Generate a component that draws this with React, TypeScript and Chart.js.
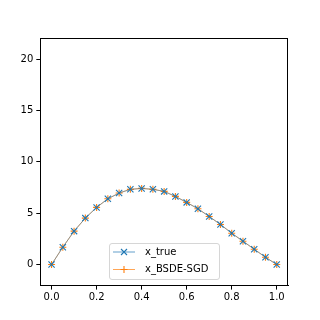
import React, { useEffect, useRef } from "react";
import { Chart, registerables } from "chart.js";

Chart.register(...registerables);

const xValues = [0, 0.05, 0.1, 0.15, 0.2, 0.25, 0.3, 0.35, 0.4, 0.45, 0.5, 0.55, 0.6, 0.65, 0.7, 0.75, 0.8, 0.85, 0.9, 0.95, 1.0];
const trueValues = [0, 1.69, 3.25, 4.52, 5.56, 6.4, 6.96, 7.32, 7.41, 7.32, 7.12, 6.63, 6.05, 5.43, 4.68, 3.9, 3.05, 2.27, 1.49, 0.71, 0];
const sgdValues = [0, 1.69, 3.25, 4.52, 5.56, 6.4, 6.96, 7.32, 7.41, 7.32, 7.12, 6.63, 6.05, 5.43, 4.68, 3.9, 3.05, 2.27, 1.49, 0.71, 0];
const xTicks = [0, 0.2, 0.4, 0.6, 0.8, 1.0];
const yTicks = [0, 5, 10, 15, 20];
const seriesLabels = ["x_true", "x_BSDE-SGD"];
const BLUE = "#1f77b4";
const ORANGE = "#ff7f0e";

const framePlugin = {
  id: "frame",
  afterDraw(chart: any) {
    const { ctx, chartArea } = chart;
    ctx.save();
    ctx.strokeStyle = "#000";
    ctx.lineWidth = 1;
    ctx.strokeRect(
      Math.round(chartArea.left) + 0.5,
      Math.round(chartArea.top) + 0.5,
      Math.round(chartArea.right - chartArea.left) - 1,
      Math.round(chartArea.bottom - chartArea.top) - 1
    );
    // legend
    const bx = 109.5, by = 243.5, bw = 110, bh = 36;
    ctx.fillStyle = "rgba(255,255,255,0.8)";
    ctx.strokeStyle = "rgba(204,204,204,0.8)";
    ctx.beginPath();
    (ctx as any).roundRect(bx, by, bw, bh, 2.5);
    ctx.fill();
    ctx.stroke();
    const rows = [
      { label: seriesLabels[0], color: BLUE, style: "x", y: 252 },
      { label: seriesLabels[1], color: ORANGE, style: "+", y: 269.5 },
    ];
    ctx.font = '10px "DejaVu Sans"';
    ctx.textBaseline = "middle";
    ctx.textAlign = "left";
    for (const r of rows) {
      ctx.strokeStyle = r.color;
      ctx.lineWidth = 0.7;
      ctx.beginPath();
      ctx.moveTo(113, r.y);
      ctx.lineTo(135, r.y);
      ctx.stroke();
      const cx = 124;
      ctx.lineWidth = 1.1;
      ctx.beginPath();
      if (r.style === "x") {
        ctx.moveTo(cx - 3, r.y - 3);
        ctx.lineTo(cx + 3, r.y + 3);
        ctx.moveTo(cx - 3, r.y + 3);
        ctx.lineTo(cx + 3, r.y - 3);
      } else {
        ctx.moveTo(cx - 3.5, r.y);
        ctx.lineTo(cx + 3.5, r.y);
        ctx.moveTo(cx, r.y - 3.5);
        ctx.lineTo(cx, r.y + 3.5);
      }
      ctx.stroke();
      ctx.fillStyle = "#000";
      ctx.fillText(r.label, 145, r.y);
    }
    ctx.restore();
  },
};

export default function App() {
  const ref = useRef<HTMLCanvasElement | null>(null);
  useEffect(() => {
    if (!ref.current) return;
    Chart.defaults.font.family = '"DejaVu Sans"';
    Chart.defaults.font.size = 10;
    Chart.defaults.color = "#000";
    const chart = new Chart(ref.current, {
      type: "line",
      data: {
        datasets: [
          {
            label: seriesLabels[0],
            data: xValues.map((x, i) => ({ x, y: trueValues[i] })),
            borderColor: BLUE,
            backgroundColor: BLUE,
            borderWidth: 0.5,
            pointStyle: "crossRot",
            pointRadius: 4.4,
            pointBorderWidth: 1.1,
            pointBorderColor: BLUE,
            tension: 0,
          },
          {
            label: seriesLabels[1],
            data: xValues.map((x, i) => ({ x, y: sgdValues[i] })),
            borderColor: ORANGE,
            backgroundColor: ORANGE,
            borderWidth: 0.7,
            pointStyle: "cross",
            pointRadius: 3.5,
            pointBorderWidth: 1.1,
            pointBorderColor: ORANGE,
            tension: 0,
          },
        ],
      },
      options: {
        animation: false,
        responsive: false,
        events: [],
        layout: { padding: { top: 38, right: 32, left: 0, bottom: 0 } },
        plugins: { legend: { display: false }, tooltip: { enabled: false } },
        scales: {
          x: {
            type: "linear",
            min: -0.05,
            max: 1.05,
            afterBuildTicks: (s: any) => {
              s.ticks = xTicks.map((v) => ({ value: v }));
            },
            afterFit: (s: any) => {
              s.height = 34.4;
            },
            ticks: {
              callback: (v: any) => Number(v).toFixed(1),
              padding: 2,
              maxRotation: 0,
              autoSkip: false,
            },
            grid: { drawOnChartArea: false, drawTicks: true, tickLength: 4, color: "#000" },
            border: { display: true, color: "#000" },
          },
          y: {
            type: "linear",
            min: -2.05,
            max: 22.05,
            afterBuildTicks: (s: any) => {
              s.ticks = yTicks.map((v) => ({ value: v }));
            },
            afterFit: (s: any) => {
              s.width = 40.3;
            },
            ticks: { padding: 3, autoSkip: false },
            grid: { drawOnChartArea: false, drawTicks: true, tickLength: 4, color: "#000" },
            border: { display: true, color: "#000" },
          },
        },
      },
      plugins: [framePlugin],
    } as any);
    return () => chart.destroy();
  }, []);
  return (
    <div style={{ position: "fixed", left: 0, top: 0, width: 320, height: 320, background: "#fff" }}>
      <canvas ref={ref} width={320} height={320} style={{ width: 320, height: 320 }} />
    </div>
  );
}
